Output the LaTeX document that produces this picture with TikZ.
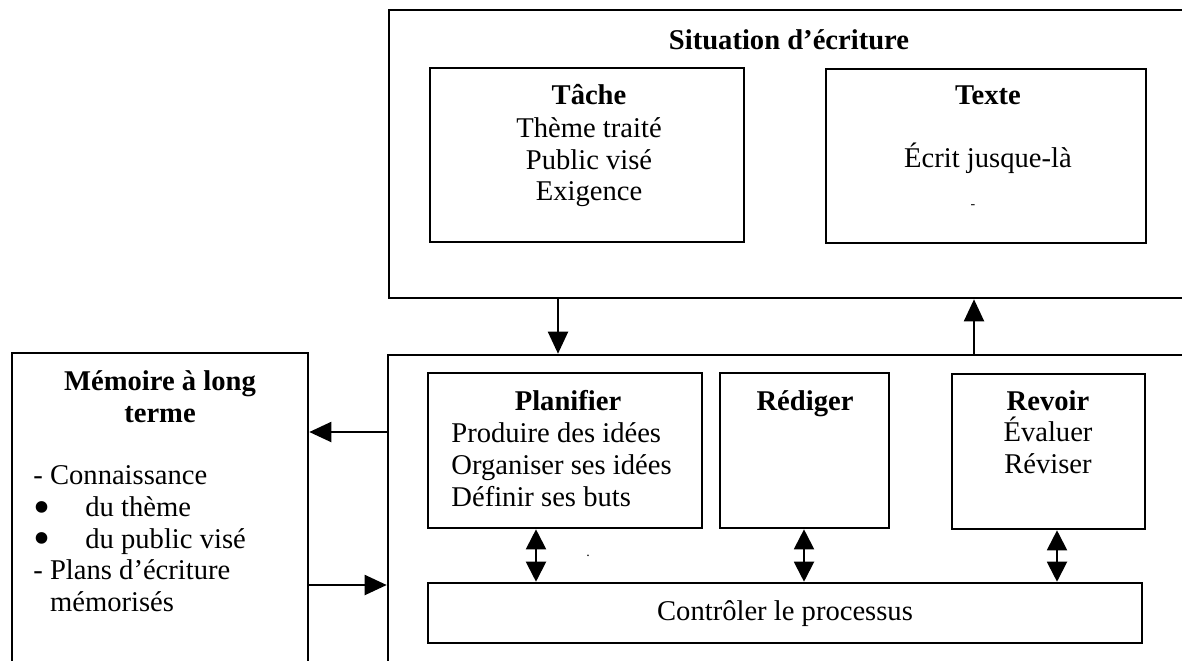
\documentclass[tikz,border=0pt]{standalone}
\usepackage{fontspec}
\setmainfont{Liberation Serif}
\usetikzlibrary{arrows.meta,fit}

\newcommand{\bigdot}{\makebox[26pt][l]{\raisebox{-3.3pt}[0pt][0pt]{\scalebox{1.7}{\textbullet}}}}

\begin{document}
\begin{tikzpicture}[x=0.5pt, y=-0.5pt,
    box/.style={draw, line width=1.3pt, inner sep=0pt},
    ttl/.style={font=\bfseries\fontsize{14.3pt}{15.8pt}\selectfont, inner sep=0pt, anchor=base},
    txt/.style={font=\fontsize{14.3pt}{15.8pt}\selectfont, inner sep=0pt},
    arr/.style={line width=1pt, -{Triangle[length=11pt, width=10pt]}},
    darr/.style={line width=1pt, {Triangle[length=10pt, width=10pt]}-{Triangle[length=10pt, width=10pt]}}]

    \useasboundingbox (0,0) rectangle (1182,660);

    \node[box, fit={(389,10) (1200,298)}] (sit) {};
    \node[ttl] (sitT) at (789,49) {Situation d’écriture};

    \node[box, fit={(430,68) (744,242)}] (tache) {};
    \node[ttl] (tacheT) at (589,104) {Tâche};
    \node[txt, align=center, anchor=north] (tacheL) at (589,117.5) {Thème traité\\Public visé\\Exigence};

    \node[box, fit={(826,69) (1146,243)}] (texte) {};
    \node[ttl] (texteT) at (988,104) {Texte};
    \node[txt, anchor=base] (texteL) at (988,167) {Écrit jusque-là};
    \node[font=\fontsize{7pt}{7pt}\selectfont, inner sep=0pt] (mk1) at (973,207) {-};

    \node[box, fit={(388,355) (1200,670)}] (proc) {};

    \node[box, fit={(428,373) (702,528)}] (plan) {};
    \node[ttl] (planT) at (568,410) {Planifier};
    \node[txt, align=left, anchor=north west] (planL) at (451,422.5) {Produire des idées\\Organiser ses idées\\Définir ses buts};

    \node[box, fit={(720,373) (889,528)}] (redi) {};
    \node[ttl] (rediT) at (805,410) {Rédiger};

    \node[box, fit={(952,374) (1145,529)}] (revo) {};
    \node[ttl] (revoT) at (1048,410) {Revoir};
    \node[txt, align=center, anchor=north] (revoL) at (1048,417) {Évaluer\\Réviser};

    \node[box, fit={(428,583) (1142,643)}] (ctrl) {};
    \node[txt, anchor=base] (ctrlT) at (785,620) {Contrôler le processus};
    \node[font=\fontsize{7pt}{7pt}\selectfont, inner sep=0pt] (mk2) at (588,556) {.};

    \node[box, fit={(12,353) (308,670)}] (mem) {};
    \node[ttl, align=center, anchor=north] (memT) at (160,370.5) {Mémoire à long\\terme};
    \node[txt, align=left, anchor=north west] (memL) at (33,465.5) {- Connaissance\\\bigdot du thème\\\bigdot du public visé\\- Plans d’écriture\\\phantom{- }mémorisés};

    \coordinate (dn) at (558,0);
    \coordinate (up) at (974,0);
    \coordinate (lm) at (0,432);
    \coordinate (rm) at (0,585);
    \coordinate (d1) at (536,0);
    \coordinate (d2) at (804,0);
    \coordinate (d3) at (1057,0);

    \draw[arr] (sit.south -| dn) -- (proc.north -| dn);
    \draw[arr] (proc.north -| up) -- (sit.south -| up);
    \draw[arr] (proc.west |- lm) -- (mem.east |- lm);
    \draw[arr] (mem.east |- rm) -- (proc.west |- rm);
    \draw[darr] (plan.south -| d1) -- (ctrl.north -| d1);
    \draw[darr] (redi.south -| d2) -- (ctrl.north -| d2);
    \draw[darr] (revo.south -| d3) -- (ctrl.north -| d3);
\end{tikzpicture}
\end{document}
